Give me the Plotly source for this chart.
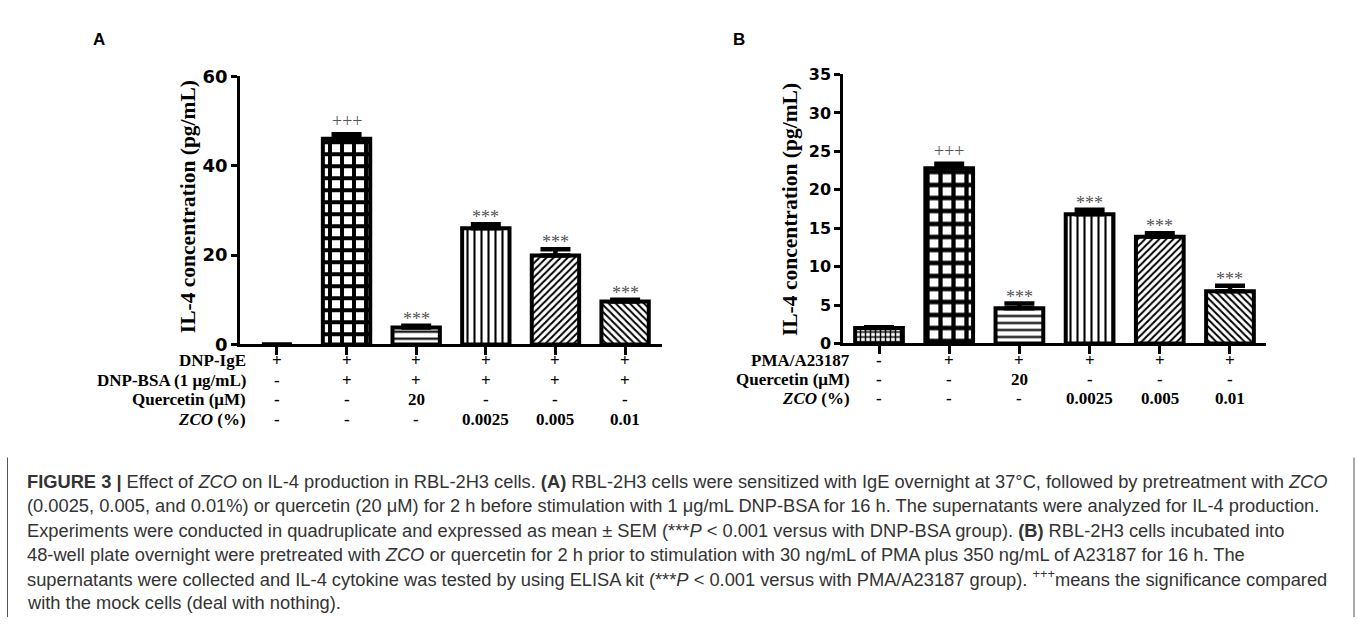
import plotly.graph_objects as go

# ---------------- data ----------------
categories = ["Mock", "Model", "Quercetin", "ZCO 0.0025", "ZCO 0.005", "ZCO 0.01"]

il4_a = [0.0, 46.0, 3.8, 26.0, 19.9, 9.6]
sem_a = [0.0, 1.0, 0.4, 0.9, 1.4, 0.4]
sig_a = ["", "+++", "***", "***", "***", "***"]

il4_b = [2.0, 22.8, 4.6, 16.8, 13.9, 6.8]
sem_b = [0.1, 0.6, 0.6, 0.6, 0.45, 0.7]
sig_b = ["", "+++", "***", "***", "***", "***"]

yticks_a = [0, 20, 40, 60]
yticks_b = [0, 5, 10, 15, 20, 25, 30, 35]

row_labels_a = ["DNP-IgE", "DNP-BSA (1 μg/mL)", "Quercetin (μM)", "<i>ZCO</i> (%)"]
row_values_a = [
    ["+", "+", "+", "+", "+", "+"],
    ["-", "+", "+", "+", "+", "+"],
    ["-", "-", "20", "-", "-", "-"],
    ["-", "-", "-", "0.0025", "0.005", "0.01"],
]
row_labels_b = ["PMA/A23187", "Quercetin (μM)", "<i>ZCO</i> (%)"]
row_values_b = [
    ["-", "+", "+", "+", "+", "+"],
    ["-", "-", "20", "-", "-", "-"],
    ["-", "-", "-", "0.0025", "0.005", "0.01"],
]

caption_lines = [
    "<b>FIGURE 3 |</b> Effect of <i>ZCO</i> on IL-4 production in RBL-2H3 cells. <b>(A)</b> RBL-2H3 cells were sensitized with IgE overnight at 37°C, followed by pretreatment with <i>ZCO</i>",
    "(0.0025, 0.005, and 0.01%) or quercetin (20 μM) for 2 h before stimulation with 1 μg/mL DNP-BSA for 16 h. The supernatants were analyzed for IL-4 production.",
    "Experiments were conducted in quadruplicate and expressed as mean ± SEM (***<i>P</i> &lt; 0.001 versus with DNP-BSA group). <b>(B)</b> RBL-2H3 cells incubated into",
    "48-well plate overnight were pretreated with <i>ZCO</i> or quercetin for 2 h prior to stimulation with 30 ng/mL of PMA plus 350 ng/mL of A23187 for 16 h. The",
    "supernatants were collected and IL-4 cytokine was tested by using ELISA kit (***<i>P</i> &lt; 0.001 versus with PMA/A23187 group). <sup>+++</sup>means the significance compared",
    "with the mock cells (deal with nothing).",
]

# ---------------- layout helpers ----------------
W, H = 1357, 627
def px_x(x):
    return x / W
def px_y(y):
    return 1 - y / H

SERIF = "Liberation Serif, Times New Roman, serif"
SANS_BOLD = "DejaVu Sans, Liberation Sans, sans-serif"

fig = go.Figure()

def add_panel(xaxis, yaxis, vals, errs, shapes, sizes, solid):
    fig.add_trace(go.Bar(
        x=categories, y=vals, xaxis=xaxis, yaxis=yaxis,
        width=0.68,
        marker=dict(
            color="white",
            line=dict(color="black", width=[4 if v > 0 else 0 for v in vals]),
            pattern=dict(shape=shapes, size=sizes, solidity=solid,
                         fgcolor="black", bgcolor="white", fillmode="replace"),
        ),
        error_y=dict(type="data", array=errs, arrayminus=[0] * len(errs),
                     symmetric=False, color="black", thickness=4.5, width=15),
        showlegend=False, hoverinfo="x+y",
    ))

add_panel("x", "y", il4_a, sem_a,
          ["", "+", "-", "|", "/", "\\"], [6, 12, 7, 7, 5, 5], [0.5, 0.55, 0.3, 0.3, 0.4, 0.4])
add_panel("x2", "y2", il4_b, sem_b,
          ["+", "+", "-", "|", "/", "\\"], [5, 13, 7, 7, 5, 5], [0.5, 0.55, 0.3, 0.3, 0.4, 0.4])

axis_common = dict(showline=True, linecolor="black", linewidth=2.5, showgrid=False,
                   zeroline=False, ticks="outside", tickcolor="black", tickwidth=2.5)

fig.update_layout(
    width=W, height=H, margin=dict(l=0, r=0, t=0, b=0),
    paper_bgcolor="white", plot_bgcolor="white",
    xaxis=dict(domain=[px_x(240), px_x(662)], range=[-0.53, 5.53], anchor="y",
               showticklabels=False, ticklen=8, **axis_common),
    yaxis=dict(domain=[px_y(345), px_y(67.5)], range=[0, 60], anchor="x",
               tickvals=yticks_a, ticklen=6,
               tickfont=dict(family=SANS_BOLD, size=18, color="black", weight="bold"),
               **axis_common),
    xaxis2=dict(domain=[px_x(843), px_x(1266)], range=[-0.513, 5.513], anchor="y2",
                showticklabels=False, ticklen=8, **axis_common),
    yaxis2=dict(domain=[px_y(344), px_y(65.7)], range=[0, 35], anchor="x2",
                tickvals=yticks_b, ticklen=6,
                tickfont=dict(family=SANS_BOLD, size=16, color="black", weight="bold"),
                **axis_common),
)

ann = []
# significance marks
for xr, yr, vals, errs, sigs in (("x", "y", il4_a, sem_a, sig_a), ("x2", "y2", il4_b, sem_b, sig_b)):
    for c, v, e, s in zip(categories, vals, errs, sigs):
        if not s:
            continue
        ann.append(dict(x=c, y=v + e, xref=xr, yref=yr, text=s, showarrow=False,
                        xanchor="center", yanchor="middle", yshift=(13 if s == "+++" else 7),
                        font=dict(family=SERIF, size=18, color="#555")))

# y-axis titles
for xx, yy in ((188, 203), (790, 206)):
    ann.append(dict(x=px_x(xx), y=px_y(yy), xref="paper", yref="paper", textangle=-90,
                    xanchor="center", yanchor="middle",
                    text="<b>IL-4 concentration (pg/mL)</b>", showarrow=False,
                    font=dict(family=SERIF, size=21.5, color="black")))

# panel letters
for xx, letter in ((99, "A"), (739, "B")):
    ann.append(dict(x=px_x(xx), y=px_y(30), xref="paper", yref="paper", text="<b>" + letter + "</b>",
                    xanchor="center", yanchor="middle", showarrow=False,
                    font=dict(family="Liberation Sans, Arial", size=17, color="black")))

# condition tables
rows_y_a = [362, 382, 402, 423]
rows_y_b = [362, 381, 401]
for xr, labels, values, rows_y, lab_x in (("x", row_labels_a, row_values_a, rows_y_a, 248),
                                          ("x2", row_labels_b, row_values_b, rows_y_b, 852)):
    for lab, vals, yy in zip(labels, values, rows_y):
        ann.append(dict(x=px_x(lab_x), y=px_y(yy), xref="paper", yref="paper",
                        xanchor="right", yanchor="middle",
                        text="<b>" + lab + "</b>", showarrow=False,
                        font=dict(family=SERIF, size=17, color="black")))
        for c, v in zip(categories, vals):
            ann.append(dict(x=c, y=px_y(yy), xref=xr, yref="paper",
                            xanchor="center", yanchor="middle",
                            text="<b>" + v + "</b>", showarrow=False,
                            font=dict(family=SERIF, size=17, color="black")))

# caption
for i, line in enumerate(caption_lines):
    ann.append(dict(x=px_x(25), y=px_y(487 + 25 * i), xref="paper", yref="paper",
                    xanchor="left", yanchor="middle", text=line, showarrow=False,
                    font=dict(family="Liberation Sans, Arial, sans-serif", size=18.3, color="#333")))

fig.update_layout(annotations=ann)

# caption frame (left and right rules)
fig.add_shape(type="line", xref="paper", yref="paper", x0=px_x(7.5), x1=px_x(7.5), y0=0, y1=px_y(462),
              line=dict(color="#555", width=1))
fig.add_shape(type="line", xref="paper", yref="paper", x0=px_x(1354), x1=px_x(1354), y0=0, y1=px_y(462),
              line=dict(color="#555", width=1))

fig.write_html("out.html")
